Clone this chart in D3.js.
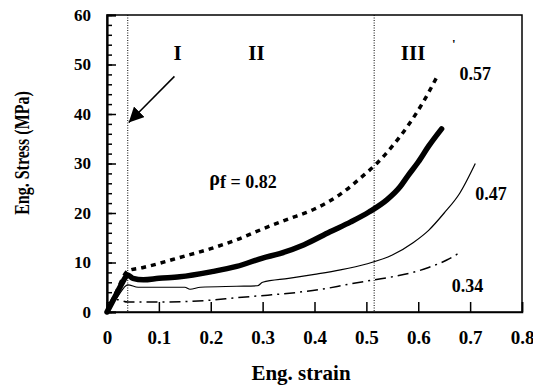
<!DOCTYPE html>
<html>
<head>
<meta charset="utf-8">
<script src="https://cdn.jsdelivr.net/npm/d3@7"></script>
<style>
  body { margin: 0; background: #fff; }
  svg { display: block; }
  text { font-family: "Liberation Serif", "Times New Roman", serif; font-weight: bold; fill: #000; }
</style>
</head>
<body>
<figure id="chart" style="margin:0"></figure>
<script>
// stress-strain curves, [strain, stress MPa]
const curve082 = [[0, 0], [0.02, 4.5], [0.04, 8.3], [0.07, 9], [0.1, 9.8], [0.14, 11], [0.2, 12.8], [0.25, 14.6],
  [0.31, 17.2], [0.35, 18.8], [0.4, 20.8], [0.45, 23.8], [0.49, 27.2], [0.52, 30], [0.55, 33.5],
  [0.58, 37.6], [0.61, 42.5], [0.635, 47.3]];
const curve057 = [[0, 0], [0.01, 2], [0.02, 4], [0.03, 6], [0.04, 7.5], [0.05, 6.8], [0.07, 6.5], [0.1, 6.8],
  [0.14, 7.1], [0.2, 8.1], [0.25, 9.2], [0.3, 10.9], [0.333, 11.8], [0.38, 13.6], [0.43, 16.2],
  [0.47, 18.2], [0.505, 20.2], [0.54, 22.7], [0.565, 25.3], [0.58, 27.5], [0.6, 30.3], [0.62, 33.5], [0.645, 37]];
const curve047 = [[0, 0], [0.02, 3], [0.04, 5.5], [0.06, 5], [0.1, 5], [0.15, 5], [0.16, 4.6], [0.18, 5],
  [0.25, 5.2], [0.29, 5.3], [0.3, 6], [0.35, 6.8], [0.4, 7.6], [0.45, 8.5], [0.5, 9.7], [0.55, 11.5],
  [0.59, 14], [0.62, 16.5], [0.65, 20], [0.68, 24], [0.71, 30]];
const curve034 = [[0, 0], [0.02, 2.5], [0.04, 2], [0.1, 2], [0.2, 2.4], [0.25, 2.9], [0.31, 3.4], [0.37, 4],
  [0.42, 4.7], [0.46, 5.5], [0.515, 6.5], [0.55, 7.1], [0.59, 8], [0.62, 9], [0.655, 10.5], [0.68, 12]];

const xTicks = [0, 0.1, 0.2, 0.3, 0.4, 0.5, 0.6, 0.7, 0.8];
const yTicks = [0, 10, 20, 30, 40, 50, 60];
const regionLines = [0.04, 0.515];
const regionLabels = [["I", 0.136], ["II", 0.288], ["III", 0.59]];
const curveLabels = [["0.57", 0.71, 48.2], ["0.47", 0.74, 24], ["0.34", 0.695, 5.5]];

const width = 533, height = 386;
const margin = { left: 107, right: 11, top: 15, bottom: 74 };

const svg = d3.select("figure#chart")
  .append("svg")
  .attr("width", width)
  .attr("height", height);

const x = d3.scaleLinear().domain([0, 0.8]).range([margin.left, width - margin.right]);
const y = d3.scaleLinear().domain([0, 60]).range([height - margin.bottom, margin.top]);

// frame
svg.append("rect")
  .attr("x", x(0)).attr("y", y(60))
  .attr("width", x(0.8) - x(0)).attr("height", y(0) - y(60))
  .attr("fill", "none").attr("stroke", "#000").attr("stroke-width", 1.5);

// x axis
const xAxis = svg.append("g")
  .attr("transform", "translate(0," + y(0) + ")")
  .call(d3.axisBottom(x).tickValues(xTicks).tickSize(-10).tickPadding(19)
    .tickFormat(d => d === 0 ? "0" : d3.format(".1f")(d)));
xAxis.select(".domain").attr("stroke-width", 1.5);
xAxis.selectAll(".tick line").attr("stroke-width", 1.5);
xAxis.selectAll("text").attr("font-size", 19).attr("font-family", null);

// y axis, minor ticks first
svg.append("g")
  .attr("transform", "translate(" + x(0) + ",0)")
  .call(d3.axisLeft(y).tickValues(d3.range(0, 61, 2)).tickSize(-5).tickFormat(""))
  .call(g => g.select(".domain").remove())
  .selectAll(".tick line").attr("stroke-width", 1.5);

const yAxis = svg.append("g")
  .attr("transform", "translate(" + x(0) + ",0)")
  .call(d3.axisLeft(y).tickValues(yTicks).tickSize(-9).tickPadding(16));
yAxis.select(".domain").attr("stroke-width", 2.2);
yAxis.selectAll(".tick line").attr("stroke-width", 1.5);
yAxis.selectAll("text").attr("font-size", 17).attr("font-family", null);

// region dividers
svg.selectAll(".region")
  .data(regionLines)
  .enter()
  .append("line")
  .attr("x1", d => x(d)).attr("x2", d => x(d))
  .attr("y1", y(60)).attr("y2", y(0))
  .attr("stroke", "#000").attr("stroke-width", 1)
  .attr("stroke-dasharray", "1,1.5");

// curves
const line = d3.line()
  .x(d => x(d[0]))
  .y(d => y(d[1]))
  .curve(d3.curveMonotoneX);

svg.append("path").datum(curve082)
  .attr("d", line).attr("fill", "none").attr("stroke", "#000")
  .attr("stroke-width", 3.5).attr("stroke-dasharray", "5,5");

svg.append("path").datum(curve057)
  .attr("d", line).attr("fill", "none").attr("stroke", "#000")
  .attr("stroke-width", 5.5).attr("stroke-linecap", "round").attr("stroke-linejoin", "round");

svg.append("path").datum(curve047)
  .attr("d", line).attr("fill", "none").attr("stroke", "#000")
  .attr("stroke-width", 1.2);

svg.append("path").datum(curve034)
  .attr("d", line).attr("fill", "none").attr("stroke", "#000")
  .attr("stroke-width", 1.5).attr("stroke-dasharray", "11,5,2,5");

// arrow pointing at region I boundary
svg.append("defs").append("marker")
  .attr("id", "head")
  .attr("viewBox", "0 0 10 10")
  .attr("refX", 10).attr("refY", 5)
  .attr("markerWidth", 15).attr("markerHeight", 15)
  .attr("markerUnits", "userSpaceOnUse")
  .attr("orient", "auto")
  .append("path").attr("d", "M0,0 L10,5 L0,10 z").attr("fill", "#000");

svg.append("line")
  .attr("x1", x(0.13)).attr("y1", y(47.6))
  .attr("x2", x(0.04) + 1).attr("y2", y(38.3))
  .attr("stroke", "#000").attr("stroke-width", 1.5)
  .attr("marker-end", "url(#head)");

// labels
svg.selectAll(".reg")
  .data(regionLabels)
  .enter()
  .append("text")
  .attr("x", d => x(d[1])).attr("y", 60)
  .attr("text-anchor", "middle").attr("font-size", 21)
  .text(d => d[0]);

svg.selectAll(".clab")
  .data(curveLabels)
  .enter()
  .append("text")
  .attr("x", d => x(d[1])).attr("y", d => y(d[2]) + 7)
  .attr("text-anchor", "middle").attr("font-size", 18)
  .text(d => d[0]);

const rho = svg.append("text")
  .attr("x", 243).attr("y", 188)
  .attr("text-anchor", "middle").attr("font-size", 18);
rho.append("tspan").attr("dy", -3).attr("font-size", 20).text("ρ");
rho.append("tspan").attr("dy", 3).text("f = 0.82");

svg.append("text")
  .attr("x", 452).attr("y", 48)
  .attr("font-size", 13).attr("font-weight", "normal")
  .text("'");

// axis titles
svg.append("text")
  .attr("x", 301).attr("y", 380)
  .attr("text-anchor", "middle").attr("font-size", 21)
  .text("Eng. strain");

svg.append("text")
  .attr("transform", "translate(29,153) rotate(-90) scale(0.8,1)")
  .attr("text-anchor", "middle").attr("font-size", 20)
  .text("Eng. Stress (MPa)");
</script>
</body>
</html>
